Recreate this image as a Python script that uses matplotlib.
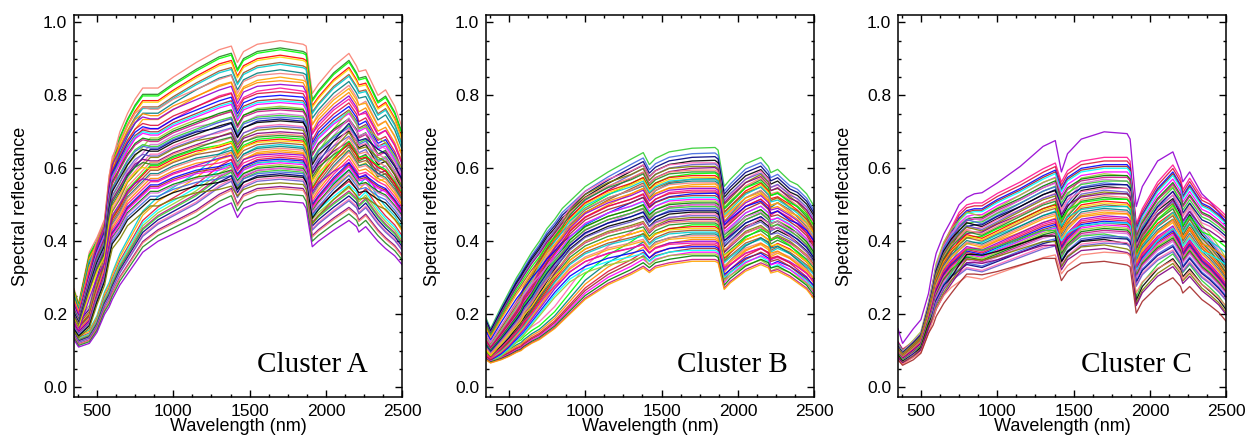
"""Spectral reflectance curves of the three clusters (A, B, C).

Each cluster is drawn from a few reference spectra read off the original
figure (values at the WAVELENGTHS anchors), the plateau level of every
curve (reflectance near 1700 nm) and which reference shape it follows.
"""

import matplotlib.pyplot as plt
import numpy as np
from matplotlib.ticker import MultipleLocator


# ----- Wavelength anchors (nm) -----
WAVELENGTHS = [350, 380, 450, 500, 550, 580, 600, 650, 700, 750, 800, 850, 900,
               1000, 1150, 1300, 1380, 1420, 1460, 1550, 1700, 1850, 1870,
               1910, 1950, 2050, 2150, 2200, 2215, 2260, 2340, 2390, 2450, 2500]
I_PLATEAU = WAVELENGTHS.index(1700)

# ----- Cluster A : reference spectra -----
A_TOP = [0.27, 0.23, 0.37, 0.41, 0.46, 0.58, 0.62, 0.70, 0.75, 0.79, 0.82, 0.82, 0.82,
         0.85, 0.89, 0.925, 0.935, 0.89, 0.92, 0.94, 0.95, 0.94, 0.935,
         0.805, 0.83, 0.88, 0.915, 0.88, 0.865, 0.87, 0.80, 0.815, 0.77, 0.71]
A_HIGH = [0.22, 0.19, 0.30, 0.37, 0.42, 0.53, 0.58, 0.62, 0.66, 0.69, 0.705, 0.70, 0.70,
          0.725, 0.75, 0.775, 0.785, 0.74, 0.77, 0.785, 0.79, 0.785, 0.77,
          0.66, 0.69, 0.73, 0.76, 0.73, 0.71, 0.72, 0.66, 0.67, 0.63, 0.58]
A_LOW = [0.17, 0.15, 0.18, 0.25, 0.31, 0.38, 0.42, 0.45, 0.49, 0.51, 0.53, 0.55, 0.55,
         0.57, 0.59, 0.60, 0.61, 0.58, 0.60, 0.615, 0.62, 0.615, 0.60,
         0.495, 0.52, 0.57, 0.61, 0.58, 0.57, 0.575, 0.55, 0.54, 0.51, 0.48]
A_BOTTOM = [0.13, 0.11, 0.12, 0.15, 0.20, 0.22, 0.24, 0.28, 0.31, 0.34, 0.37, 0.385, 0.40,
            0.42, 0.45, 0.49, 0.505, 0.465, 0.49, 0.505, 0.51, 0.505, 0.49,
            0.385, 0.40, 0.43, 0.457, 0.44, 0.425, 0.44, 0.40, 0.38, 0.36, 0.335]
A_LEVELS = [0.95, 0.93, 0.925, 0.91, 0.905, 0.89, 0.885, 0.87, 0.86, 0.85, 0.84,
            0.83, 0.82, 0.81, 0.80, 0.79, 0.785, 0.78, 0.77, 0.765, 0.76, 0.75,
            0.745, 0.74, 0.735, 0.73, 0.72, 0.715, 0.71, 0.70, 0.695, 0.69, 0.685,
            0.68, 0.675, 0.67, 0.665, 0.66, 0.655, 0.65, 0.645, 0.64, 0.635, 0.63,
            0.625, 0.62, 0.62, 0.615, 0.61, 0.605, 0.60, 0.60, 0.595, 0.59, 0.585,
            0.58, 0.575, 0.57, 0.56, 0.55, 0.545, 0.53, 0.51]
# 0 = top, 1 = high, 2 = low, 3 = bottom reference shape
A_SHAPES = [0, 0, 0, 0, 0, 0, 0, 0, 1, 0, 1,
            1, 0, 1, 1, 1, 1, 1, 2, 1, 1, 2,
            1, 1, 2, 1, 2, 1, 2, 1, 2, 1, 2,
            2, 1, 2, 3, 2, 2, 3, 2, 1, 2, 3,
            2, 2, 3, 2, 3, 2, 3, 2, 3, 2, 3,
            2, 3, 3, 2, 3, 3, 3, 3]

# ----- Cluster B : reference spectra -----
B_TOP = [0.19, 0.16, 0.22, 0.26, 0.30, 0.32, 0.335, 0.37, 0.40, 0.435, 0.46, 0.49, 0.51,
         0.55, 0.59, 0.625, 0.643, 0.61, 0.627, 0.645, 0.655, 0.657, 0.65,
         0.55, 0.57, 0.612, 0.63, 0.605, 0.588, 0.597, 0.565, 0.555, 0.53, 0.495]
B_HIGH = [0.13, 0.11, 0.15, 0.18, 0.21, 0.23, 0.25, 0.28, 0.32, 0.355, 0.385, 0.41, 0.44,
          0.48, 0.51, 0.53, 0.545, 0.515, 0.53, 0.545, 0.55, 0.55, 0.545,
          0.455, 0.47, 0.51, 0.53, 0.51, 0.49, 0.495, 0.475, 0.46, 0.435, 0.40]
B_LOW = [0.09, 0.08, 0.10, 0.12, 0.145, 0.16, 0.17, 0.20, 0.23, 0.26, 0.29, 0.315, 0.34,
         0.37, 0.395, 0.41, 0.42, 0.395, 0.41, 0.425, 0.43, 0.43, 0.425,
         0.345, 0.36, 0.395, 0.41, 0.395, 0.375, 0.385, 0.37, 0.355, 0.335, 0.31]
B_BOTTOM = [0.075, 0.066, 0.075, 0.084, 0.095, 0.10, 0.107, 0.12, 0.13, 0.145, 0.16, 0.18,
            0.20, 0.24, 0.28, 0.308, 0.326, 0.313, 0.326, 0.335, 0.344, 0.344, 0.34,
            0.267, 0.285, 0.317, 0.335, 0.326, 0.312, 0.317, 0.30, 0.285, 0.267, 0.24]
B_LEVELS = [0.655, 0.64, 0.63, 0.62, 0.615, 0.61, 0.605, 0.60, 0.595, 0.59, 0.585,
            0.58, 0.575, 0.57, 0.57, 0.565, 0.56, 0.555, 0.55, 0.545, 0.54, 0.535,
            0.53, 0.525, 0.52, 0.515, 0.51, 0.505, 0.50, 0.50, 0.495, 0.49, 0.485,
            0.48, 0.475, 0.47, 0.465, 0.46, 0.455, 0.45, 0.445, 0.44, 0.435, 0.43,
            0.425, 0.42, 0.415, 0.41, 0.405, 0.40, 0.395, 0.39, 0.385, 0.38, 0.375,
            0.37, 0.365, 0.36, 0.35, 0.345]
B_SHAPES = [0, 0, 0, 0, 1, 0, 1, 0, 1, 1, 0,
            1, 1, 0, 1, 2, 1, 0, 1, 1, 2, 1,
            0, 1, 2, 1, 2, 1, 2, 0, 1, 2, 1,
            2, 3, 1, 2, 2, 1, 2, 3, 2, 1, 2,
            2, 3, 2, 2, 3, 2, 1, 3, 2, 3, 2,
            3, 2, 3, 3, 3]

# ----- Cluster C : reference spectra -----
C_TOP = [0.16, 0.12, 0.16, 0.185, 0.257, 0.33, 0.367, 0.42, 0.458, 0.50, 0.52, 0.53, 0.533,
         0.56, 0.605, 0.66, 0.676, 0.59, 0.64, 0.68, 0.70, 0.695, 0.68,
         0.495, 0.55, 0.62, 0.645, 0.59, 0.563, 0.59, 0.53, 0.51, 0.48, 0.45]
C_HIGH = [0.12, 0.10, 0.12, 0.14, 0.22, 0.28, 0.32, 0.38, 0.42, 0.46, 0.48, 0.485, 0.485,
          0.51, 0.54, 0.575, 0.59, 0.54, 0.57, 0.595, 0.605, 0.605, 0.595,
          0.43, 0.47, 0.54, 0.585, 0.55, 0.52, 0.55, 0.50, 0.49, 0.47, 0.45]
C_LOW = [0.10, 0.085, 0.11, 0.13, 0.20, 0.25, 0.29, 0.34, 0.37, 0.39, 0.41, 0.405, 0.40,
         0.42, 0.45, 0.48, 0.49, 0.42, 0.45, 0.49, 0.50, 0.495, 0.485,
         0.35, 0.39, 0.44, 0.47, 0.43, 0.40, 0.43, 0.38, 0.36, 0.33, 0.30]
C_BOTTOM = [0.075, 0.06, 0.075, 0.093, 0.148, 0.17, 0.194, 0.23, 0.258, 0.285, 0.31, 0.31,
            0.308, 0.317, 0.335, 0.353, 0.353, 0.292, 0.317, 0.34, 0.345, 0.335, 0.33,
            0.203, 0.235, 0.276, 0.30, 0.276, 0.258, 0.276, 0.24, 0.225, 0.205, 0.18]
C_LEVELS = [0.70, 0.63, 0.62, 0.61, 0.605, 0.60, 0.59, 0.585, 0.58, 0.575, 0.57,
            0.565, 0.56, 0.555, 0.55, 0.545, 0.54, 0.535, 0.53, 0.525, 0.52, 0.515,
            0.51, 0.505, 0.50, 0.495, 0.49, 0.485, 0.48, 0.475, 0.47, 0.465, 0.46,
            0.455, 0.45, 0.45, 0.445, 0.44, 0.435, 0.43, 0.425, 0.42, 0.415, 0.41,
            0.405, 0.40, 0.395, 0.39, 0.38, 0.37, 0.345]
C_SHAPES = [0, 1, 1, 1, 1, 1, 1, 2, 1, 1, 2,
            1, 2, 1, 2, 1, 2, 2, 1, 2, 2, 1,
            2, 2, 2, 1, 2, 2, 2, 1, 2, 2, 2,
            2, 2, 1, 2, 2, 2, 2, 2, 3, 2, 2,
            3, 2, 2, 3, 3, 2, 3]

CLUSTER_NAMES = ["Cluster A", "Cluster B", "Cluster C"]

# IDL-like line colours, cycled over the curves
COLORS = ["salmon", "darkviolet", "limegreen", "red", "blue", "black", "darkturquoise",
          "magenta", "olive", "orange", "mediumvioletred", "forestgreen", "deeppink",
          "royalblue", "gold", "brown", "hotpink", "teal", "yellowgreen", "purple",
          "darkorange", "orchid", "lime", "crimson", "navy", "sienna", "cyan",
          "slateblue", "lightcoral", "green"]
COLOR_START = [0, 2, 1]
BOTTOM_COLORS = ["darkviolet", "orange", "brown"]


def build_curves(templates, levels, shapes):
    """Each curve = its reference shape, scaled so that its plateau matches its level."""
    templates = [np.array(t) for t in templates]
    curves = []
    for level, k in zip(levels, shapes):
        curves.append(templates[k] * level / templates[k][I_PLATEAU])
    return curves


def main() -> None:
    plt.rcParams["font.family"] = ["Liberation Sans", "DejaVu Sans"]

    clusters = [
        build_curves([A_TOP, A_HIGH, A_LOW, A_BOTTOM], A_LEVELS, A_SHAPES),
        build_curves([B_TOP, B_HIGH, B_LOW, B_BOTTOM], B_LEVELS, B_SHAPES),
        build_curves([C_TOP, C_HIGH, C_LOW, C_BOTTOM], C_LEVELS, C_SHAPES),
    ]
    label_x = [0.896, 0.92, 0.896]

    fig = plt.figure(figsize=(12.57, 4.37), dpi=100)
    lefts = [0.0589, 0.3866, 0.7144]
    n_col = len(COLORS)

    for j, (curves, name) in enumerate(zip(clusters, CLUSTER_NAMES)):
        ax = fig.add_axes([lefts[j], 0.0915, 0.2612, 0.874])
        for i, y in enumerate(curves):
            couleur = COLORS[(COLOR_START[j] + i * 11) % n_col]
            if i == len(curves) - 1:
                couleur = BOTTOM_COLORS[j]
            ax.plot(WAVELENGTHS, y, color=couleur, linewidth=0.95, alpha=0.9)

        ax.set_xlim(350, 2500)
        ax.set_ylim(-0.027, 1.02)
        ax.xaxis.set_major_locator(MultipleLocator(500))
        ax.xaxis.set_minor_locator(MultipleLocator(125))
        ax.yaxis.set_major_locator(MultipleLocator(0.2))
        ax.yaxis.set_minor_locator(MultipleLocator(0.05))
        ax.yaxis.set_major_formatter(lambda v, pos: f"{v:.1f}")
        ax.tick_params(which="both", direction="in", top=True, right=True,
                       labelsize=12.5, width=1.0)
        ax.tick_params(which="major", length=5, pad=5)
        ax.tick_params(which="minor", length=2.5)
        for s in ax.spines.values():
            s.set_linewidth(1.1)

        ax.set_xlabel("Wavelength (nm)", fontsize=13, labelpad=-1)
        ax.set_ylabel("Spectral reflectance", fontsize=13, labelpad=10)
        ax.text(label_x[j], 0.065, name, transform=ax.transAxes, ha="right",
                va="baseline", fontsize=21, family="Liberation Serif")

    fig.savefig("out.png", dpi=100)
    plt.close(fig)


if __name__ == "__main__":
    main()
